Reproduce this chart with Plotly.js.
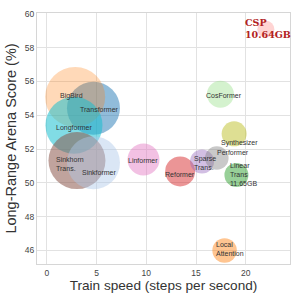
<!DOCTYPE html>
<html><head><meta charset="utf-8">
<script src="https://cdn.plot.ly/plotly-3.0.1.min.js"></script>
<style>html,body{margin:0;padding:0;background:#fff}#chart{width:300px;height:300px}</style>
</head><body><div id="chart"></div>
<script>
// Models (drawing order)
const models = ["Transformer","BigBird","Longformer","Sinkhorn Trans.","Sinkformer","Linformer","Reformer","Sparse Trans.","Performer","Linear Trans.","Local Attention","CosFormer","Synthesizer","CSP"];
const speed  = [4.68, 2.84, 2.72, 3.02, 4.68, 9.71, 13.4, 15.6, 17.09, 19.06, 17.87, 17.45, 18.83, 22.02];
const score  = [54.42, 55.08, 53.41, 51.32, 51.19, 51.38, 50.68, 51.27, 51.47, 50.47, 46.0, 55.24, 52.9, 59.09];
const sizes  = [53, 60, 57, 57, 53, 32, 30, 24, 23.5, 24, 24.5, 27, 25, 17];
const colors = ["rgba(31,119,180,0.7)","rgba(255,127,14,0.42)","rgba(23,190,207,0.78)","rgba(140,86,75,0.78)","rgba(174,199,232,0.65)","rgba(227,119,194,0.65)","rgba(214,39,40,0.7)","rgba(148,103,189,0.6)","rgba(127,127,127,0.6)","rgba(44,160,44,0.7)","rgba(255,127,14,0.65)","rgba(152,223,138,0.6)","rgba(188,189,34,0.7)","rgba(255,152,150,0.6)"];

// Labels
const labelText = ["Transformer","BigBird","Longformer","Sinkhorn<br>Trans.","Sinkformer","Linformer","Reformer","Sparse<br>Trans.","Performer","Linear<br>Trans<br>11.65GB","Local<br>Attention","CosFormer","Synthesizer"];
const labelX = [5.24, 2.51, 2.72, 0.66, 5.24, 9.68, 13.35, 14.57, 16.95, 18.25, 16.81, 17.84, 19.38];
const labelY = [54.36, 55.12, 53.22, 51.13, 50.6, 51.35, 50.5, 51.17, 51.8, 50.51, 46.07, 55.18, 52.37];
const labelAnchor = ["center","center","center","left","center","center","center","left","left","left","left","center","center"];
const cspLabel = {text: "CSP<br>10.64GB", x: 19.7, y: 59.15};

const xTicks = [0, 5, 10, 15, 20];
const yTicks = [46, 48, 50, 52, 54, 56, 58, 60];

const annotations = labelText.map((t, i) => ({
  text: t, x: labelX[i], y: labelY[i], xref: "x", yref: "y",
  xanchor: labelAnchor[i], yanchor: "middle", align: "left", showarrow: false,
  font: {family: "Liberation Sans, Arial, sans-serif", size: 7, color: "#333"}
}));
annotations.push({
  text: cspLabel.text, x: cspLabel.x, y: cspLabel.y, xref: "x", yref: "y",
  xanchor: "left", yanchor: "middle", align: "left", showarrow: false,
  font: {family: "DejaVu Serif, serif", size: 9.5, color: "#b22222", weight: "bold"}
});

const trace = {
  type: "scatter", mode: "markers", x: speed, y: score, text: models,
  marker: {size: sizes, sizemode: "diameter", color: colors, line: {width: 0}},
  hoverinfo: "text"
};

const axisCommon = {
  showgrid: true, gridcolor: "#e2e2e2", gridwidth: 1, zeroline: false,
  showline: true, linecolor: "#d6d6d6", linewidth: 1, mirror: true,
  ticks: "", tickfont: {family: "Liberation Sans, Arial, sans-serif", size: 8.5, color: "#444"}
};

const layout = {
  width: 300, height: 300,
  margin: {l: 37, r: 10, t: 13, b: 36},
  paper_bgcolor: "#fff", plot_bgcolor: "#fff",
  showlegend: false,
  xaxis: Object.assign({}, axisCommon, {
    range: [-1, 24.45], tickvals: xTicks, ticklabelstandoff: 1,
    title: {text: "Train speed (steps per second)", standoff: 3,
      font: {family: "Liberation Sans, Arial, sans-serif", size: 13.6, color: "#333"}}
  }),
  yaxis: Object.assign({}, axisCommon, {
    range: [45.2, 60.05], tickvals: yTicks,
    title: {text: "Long-Range Arena Score (%)", standoff: 4,
      font: {family: "Liberation Sans, Arial, sans-serif", size: 14.5, color: "#333"}}
  }),
  annotations: annotations
};

Plotly.newPlot("chart", [trace], layout, {displayModeBar: false, staticPlot: true});
</script>
</body></html>
